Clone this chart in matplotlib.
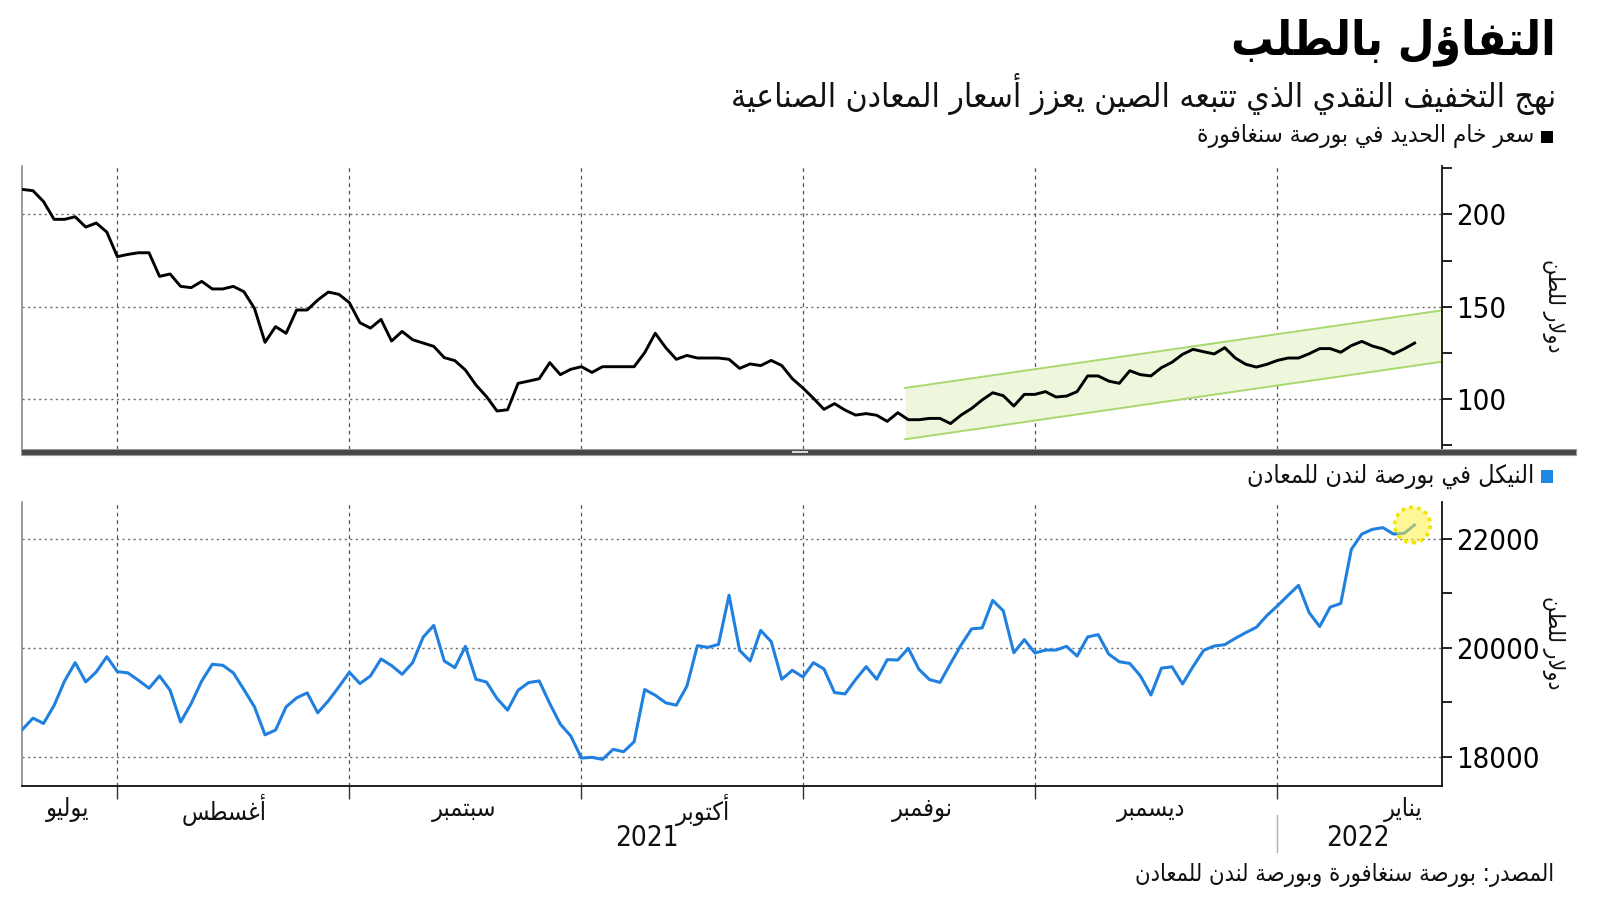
import numpy as np
import pandas as pd
import matplotlib
matplotlib.use("Agg")
import matplotlib.pyplot as plt
from matplotlib.font_manager import FontProperties, fontManager
from matplotlib.patches import Rectangle, Ellipse

# ---------------- data ----------------
dates = pd.bdate_range("2021-07-20", "2022-01-20")

iron_ore = [213.5, 212.8, 206.9, 197.3, 197.3, 198.7, 193.1, 195.3, 190.4,
            177.1, 178.3, 179.2, 179.2, 166.4, 167.7, 161.0, 160.3, 163.7, 159.6,
            159.6, 161.0, 158.1, 149.1, 130.7, 139.2, 135.6, 148.2, 148.2, 153.6,
            157.9, 156.7,
            152.2, 141.3, 138.4, 143.1, 131.4, 136.6, 132.1, 130.3, 128.5, 122.4,
            120.8, 115.7, 107.6, 101.3, 93.5, 94.2, 108.5, 109.7, 111.0, 119.7,
            113.2, 116.1,
            117.5, 114.4, 117.5, 117.5, 117.5, 117.5, 125.1, 135.6, 127.8, 121.5,
            123.6, 122.2, 122.2, 122.2, 121.5, 116.6, 119.0, 118.1, 120.9, 118.1,
            111.0,
            106.0, 100.4, 94.4, 97.5, 94.0, 91.3, 92.1, 91.2, 87.9, 92.6, 88.8,
            88.8, 89.5, 89.5, 86.7, 91.3, 94.9, 99.5, 103.4, 101.8, 96.2, 102.5,
            102.5, 104.0, 101.1, 101.6, 104.0, 112.5, 112.5, 109.7, 108.5, 115.3,
            113.2, 112.5, 117.0, 119.9, 124.2, 126.9, 125.6, 124.4, 127.8, 122.2,
            118.8, 117.3, 118.8,
            120.9, 122.2, 122.2, 124.5, 127.3, 127.3, 125.3, 128.9, 131.2, 128.7,
            127.1, 124.4, 127.1, 130.3]

nickel = [18500, 18707, 18610, 18939, 19390, 19726, 19372, 19555, 19835,
          19561, 19537, 19402, 19256, 19482, 19219, 18634, 18976, 19390, 19695,
          19677, 19537, 19232, 18915, 18402, 18488, 18915, 19079, 19171, 18805,
          19024, 19280,
          19549, 19341, 19482, 19793, 19671, 19512, 19726, 20195, 20409, 19756,
          19634, 20024, 19421, 19370, 19067, 18854, 19219, 19360, 19390, 18976,
          18597, 18378,
          17975, 17988, 17951, 18134, 18091, 18274, 19232, 19128, 18988, 18945,
          19293, 20037, 20006, 20061, 20963, 19951, 19756, 20317, 20110, 19421,
          19585,
          19463, 19726, 19610, 19177, 19152, 19415, 19652, 19421, 19780, 19774,
          19988, 19604, 19415, 19363, 19710, 20049, 20345, 20363, 20868, 20677,
          19908, 20148,
          19902, 19957, 19957, 20025, 19846, 20197, 20240, 19883, 19742, 19711,
          19483, 19132, 19625, 19649, 19335, 19655, 19951, 20031, 20055, 20172,
          20277, 20375, 20591,
          20769, 20960, 21145, 20646, 20388, 20745, 20812, 21803, 22086, 22172,
          22203, 22086, 22098, 22252]

channel_x = [83.7, 134.6]
channel_upper = [106.0, 148.0]
channel_lower = [78.2, 120.2]

month_names = ["يوليو", "أغسطس", "سبتمبر", "أكتوبر", "نوفمبر", "ديسمبر", "يناير"]
month_label_pos = [4.3, 19.1, 41.9, 64.5, 85.3, 107.0, 130.9]
year_labels = ["2021", "2022"]
year_label_pos = [59.2, 126.6]

iron_ticks = [100, 150, 200]
iron_minor = [75, 125, 175, 225]
nickel_ticks = [18000, 20000, 22000]
nickel_minor = [19000, 21000]

title = "التفاؤل بالطلب"
subtitle = "نهج التخفيف النقدي الذي تتبعه الصين يعزز أسعار المعادن الصناعية"
legend_iron = "سعر خام الحديد في بورصة سنغافورة"
legend_nickel = "النيكل في بورصة لندن للمعادن"
unit_label = "دولار للطن"
source = "المصدر: بورصة سنغافورة وبورصة لندن للمعادن"

# ---------------- Arabic shaping (contextual forms + RTL order) ----------------
_FORMS = {
    "ء": (0xFE80, 1), "آ": (0xFE81, 2), "أ": (0xFE83, 2), "ؤ": (0xFE85, 2),
    "إ": (0xFE87, 2), "ئ": (0xFE89, 4), "ا": (0xFE8D, 2), "ب": (0xFE8F, 4),
    "ة": (0xFE93, 2), "ت": (0xFE95, 4), "ث": (0xFE99, 4), "ج": (0xFE9D, 4),
    "ح": (0xFEA1, 4), "خ": (0xFEA5, 4), "د": (0xFEA9, 2), "ذ": (0xFEAB, 2),
    "ر": (0xFEAD, 2), "ز": (0xFEAF, 2), "س": (0xFEB1, 4), "ش": (0xFEB5, 4),
    "ص": (0xFEB9, 4), "ض": (0xFEBD, 4), "ط": (0xFEC1, 4), "ظ": (0xFEC5, 4),
    "ع": (0xFEC9, 4), "غ": (0xFECD, 4), "ف": (0xFED1, 4), "ق": (0xFED5, 4),
    "ك": (0xFED9, 4), "ل": (0xFEDD, 4), "م": (0xFEE1, 4), "ن": (0xFEE5, 4),
    "ه": (0xFEE9, 4), "و": (0xFEED, 2), "ى": (0xFEEF, 2), "ي": (0xFEF1, 4),
}
_LAM_ALEF = {"آ": 0xFEF5, "أ": 0xFEF7, "إ": 0xFEF9, "ا": 0xFEFB}


def ar(text):
    chars = list(text)
    out = []
    prev_joins = False
    i = 0
    n = len(chars)
    while i < n:
        c = chars[i]
        if c not in _FORMS:
            out.append(c)
            prev_joins = False
            i += 1
            continue
        base, nf = _FORMS[c]
        if c == "ل" and i + 1 < n and chars[i + 1] in _LAM_ALEF:
            out.append(chr(_LAM_ALEF[chars[i + 1]] + (1 if prev_joins else 0)))
            prev_joins = False
            i += 2
            continue
        nxt = chars[i + 1] if i + 1 < n else None
        next_joins = nf == 4 and nxt in _FORMS
        if nf == 1:
            form = base
        elif nf == 2:
            form = base + (1 if prev_joins else 0)
        else:
            if prev_joins and next_joins:
                form = base + 3
            elif prev_joins:
                form = base + 1
            elif next_joins:
                form = base + 2
            else:
                form = base
        out.append(chr(form))
        prev_joins = nf == 4
        i += 1
    # visual order: reverse, keeping runs of ASCII digits/letters LTR
    runs, cur, cur_ltr = [], [], None
    for ch in out:
        ltr = ch.isascii() and ch.isalnum()
        if cur and ltr != cur_ltr:
            runs.append((cur_ltr, cur))
            cur = []
        cur.append(ch)
        cur_ltr = ltr
    if cur:
        runs.append((cur_ltr, cur))
    vis = []
    for ltr, r in reversed(runs):
        vis.extend(r if ltr else reversed(r))
    return "".join(vis)


# ---------------- fonts ----------------
has_cond = any(f.name == "DejaVu Sans" and "condensed" in str(f.stretch)
               for f in fontManager.ttflist)
STRETCH = "condensed" if has_cond else "normal"


def fp(size, weight="normal"):
    return FontProperties(family="DejaVu Sans", stretch=STRETCH, size=size, weight=weight)


# ---------------- figure ----------------
W, H = 1600, 901
fig = plt.figure(figsize=(16, 9.01), dpi=100)
fig.patch.set_facecolor("white")

x = np.arange(len(dates))
month_starts = [i for i in range(1, len(dates)) if dates[i].month != dates[i - 1].month]
XLIM = (-0.07, 134.6)

ax1 = fig.add_axes([0.01356, 0.5018, 0.90125 - 0.01356, 0.8154 - 0.5018])
ax2 = fig.add_axes([0.01356, 0.128, 0.90125 - 0.01356, 0.4428 - 0.128])

GRID_H = dict(color="#6b6b6b", lw=1.0, ls=(0, (1.5, 2.5)))
GRID_V = dict(color="#555555", lw=0.9, ls=(0, (3, 3)))

for ax in (ax1, ax2):
    ax.set_xlim(*XLIM)
    ax.spines["top"].set_visible(False)
    ax.spines["left"].set_color("#8a8a8a")
    ax.spines["left"].set_linewidth(1.2)
    ax.spines["right"].set_color("#111111")
    ax.spines["right"].set_linewidth(1.3)
    ax.yaxis.tick_right()
    ax.tick_params(axis="y", which="both", direction="out", length=7, width=1.3,
                   color="#111111", pad=3, labelsize=21)
    for m in month_starts:
        ax.axvline(m, zorder=0, **GRID_V)

# --- top: iron ore ---
ax1.set_ylim(73, 226)
ax1.set_yticks(iron_ticks)
ax1.set_yticks(iron_minor, minor=True)
ax1.set_yticklabels([str(v) for v in iron_ticks], fontproperties=fp(21))
for v in iron_ticks:
    ax1.axhline(v, zorder=0, **GRID_H)
ax1.spines["bottom"].set_visible(False)
ax1.set_xticks([])
ax1.fill_between(channel_x, channel_lower, channel_upper, color="#eef6dc", zorder=1, lw=0)
ax1.plot(channel_x, channel_upper, color="#a9d86e", lw=1.4, zorder=2)
ax1.plot(channel_x, channel_lower, color="#a9d86e", lw=1.4, zorder=2)
ax1.plot(x, iron_ore, color="#000000", lw=2.1, zorder=3)

# --- bottom: nickel ---
ax2.set_ylim(17468, 22673)
ax2.set_yticks(nickel_ticks)
ax2.set_yticks(nickel_minor, minor=True)
ax2.set_yticklabels([str(v) for v in nickel_ticks], fontproperties=fp(21))
for v in nickel_ticks:
    ax2.axhline(v, zorder=0, **GRID_H)
ax2.spines["bottom"].set_color("#111111")
ax2.spines["bottom"].set_linewidth(1.3)
ax2.set_xticks(month_starts)
ax2.set_xticklabels([])
ax2.tick_params(axis="x", direction="out", length=9, width=1.0, color="#333333")
ax2.plot(x, nickel, color="#1f80e0", lw=2.2, zorder=3)
ax2.add_patch(Ellipse((x[-1] - 0.2, nickel[-1]), 3.4, 650,
                      facecolor=(1.0, 0.95, 0.25, 0.55),
                      edgecolor="#f2e300", lw=2.6, ls=(0, (1, 1.2)), zorder=4))

# month & year labels
for pos, name in zip(month_label_pos, month_names):
    ax2.text(pos, -0.085, ar(name), transform=ax2.get_xaxis_transform(),
             ha="center", va="center", fontproperties=fp(18), color="#111111")
for pos, yl in zip(year_label_pos, year_labels):
    ax2.text(pos, -0.185, yl, transform=ax2.get_xaxis_transform(),
             ha="center", va="center", fontproperties=fp(20), color="#111111")
ax2.plot([month_starts[-1], month_starts[-1]], [-0.105, -0.235],
         transform=ax2.get_xaxis_transform(), color="#b0b0b0", lw=1.0, clip_on=False)

# separator bar between panels
fig.add_artist(Rectangle((21 / W, 1 - 455 / H), (1576 - 21) / W, 6 / H,
                         transform=fig.transFigure, facecolor="#474747",
                         edgecolor="#9a9a9a", lw=0.8))
fig.add_artist(Rectangle((792 / W, 1 - 453.2 / H), 16 / W, 2.4 / H,
                         transform=fig.transFigure, facecolor="#d8d8d8", lw=0))

# titles
fig.text(1556 / W, 1 - 42 / H, ar(title), ha="right", va="center",
         fontproperties=fp(34, "bold"), color="#000000")
fig.text(1556 / W, 1 - 94 / H, ar(subtitle), ha="right", va="center",
         fontproperties=fp(24), color="#111111")

# legends
fig.add_artist(Rectangle((1541 / W, 1 - 143 / H), 12 / W, 12 / H,
                         transform=fig.transFigure, facecolor="#000000", lw=0))
fig.text(1534 / W, 1 - 136 / H, ar(legend_iron), ha="right", va="center",
         fontproperties=fp(17.5), color="#111111")
fig.add_artist(Rectangle((1541 / W, 1 - 483 / H), 12 / W, 13 / H,
                         transform=fig.transFigure, facecolor="#1e88e5", lw=0))
fig.text(1534 / W, 1 - 476 / H, ar(legend_nickel), ha="right", va="center",
         fontproperties=fp(18), color="#111111")

# unit labels
for yc in (306, 643):
    fig.text(1553 / W, 1 - yc / H, ar(unit_label), rotation=270, ha="center",
             va="center", fontproperties=fp(16.5), color="#111111")

# source
fig.text(1554 / W, 1 - 875 / H, ar(source), ha="right", va="center",
         fontproperties=fp(17), color="#111111")

fig.savefig("out.png", dpi=100, facecolor="white")
